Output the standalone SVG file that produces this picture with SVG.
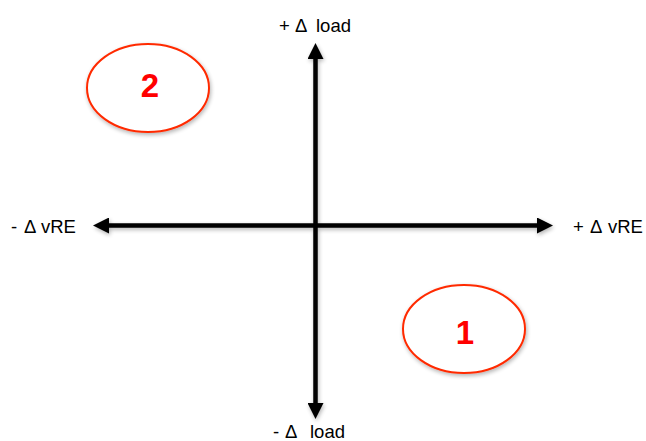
<svg xmlns="http://www.w3.org/2000/svg" width="646" height="441" viewBox="0 0 646 441">
<defs>
<filter id="sh" x="-20%" y="-20%" width="140%" height="140%">
<feGaussianBlur in="SourceAlpha" stdDeviation="2"/>
<feOffset dx="1" dy="2" result="b"/>
<feComponentTransfer><feFuncA type="linear" slope="0.3"/></feComponentTransfer>
<feMerge><feMergeNode/><feMergeNode in="SourceGraphic"/></feMerge>
</filter>
<marker id="ah" viewBox="0 0 16 16" refX="8" refY="8" markerWidth="16" markerHeight="16" orient="auto-start-reverse" markerUnits="userSpaceOnUse">
<path d="M0,0 L16,8 L0,16 Z" fill="#000"/>
</marker>
</defs>
<style>
.lbl{font-family:"Liberation Sans",Arial,sans-serif;font-size:18.5px;fill:#000}
.num{font-family:"Liberation Sans",Arial,sans-serif;font-size:33px;font-weight:bold;fill:#ff0000;text-anchor:middle}
.ell{fill:#fff;stroke:#ff2a00;stroke-width:2}
.ax{stroke:#000;stroke-width:4.5;fill:none}
</style>
<g id="connectors" filter="url(#sh)">
<line class="ax" x1="315.5" y1="411" x2="315.5" y2="51" marker-end="url(#ah)" marker-start="url(#ah)"/>
<line class="ax" x1="101" y1="225.5" x2="545" y2="225.5" marker-end="url(#ah)" marker-start="url(#ah)"/>
</g>
<g id="node2">
<ellipse class="ell" cx="148" cy="88" rx="61" ry="44" filter="url(#sh)"/>
<text class="num" x="150" y="97">2</text>
</g>
<g id="node1">
<ellipse class="ell" cx="464" cy="329" rx="61" ry="44" filter="url(#sh)"/>
<text class="num" x="465" y="344">1</text>
</g>
<g id="labels">
<text class="lbl" y="32"><tspan x="279">+</tspan><tspan x="295">Δ</tspan><tspan x="316">load</tspan></text>
<text class="lbl" y="233"><tspan x="11">-</tspan><tspan x="24">Δ</tspan><tspan x="41">vRE</tspan></text>
<text class="lbl" y="233"><tspan x="573">+</tspan><tspan x="590">Δ</tspan><tspan x="608">vRE</tspan></text>
<text class="lbl" y="438"><tspan x="273">-</tspan><tspan x="285">Δ</tspan><tspan x="310">load</tspan></text>
</g>
</svg>
